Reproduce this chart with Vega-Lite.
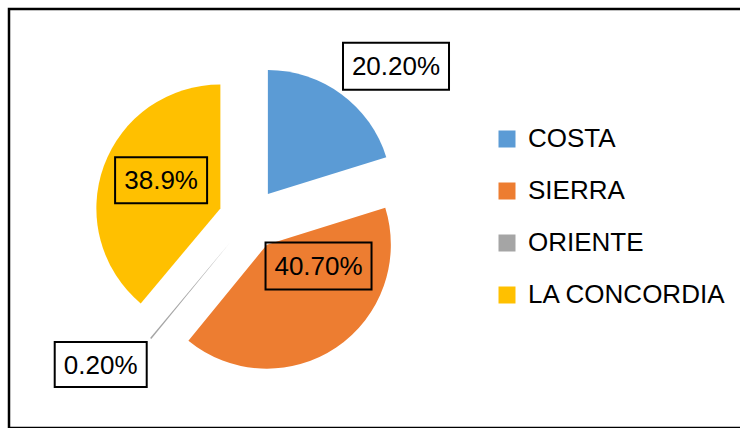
{
  "$schema": "https://vega.github.io/schema/vega-lite/v6.json",
  "width": 740,
  "height": 419,
  "padding": {"left": 9, "top": 9, "right": 0, "bottom": 0},
  "autosize": {"type": "none"},
  "background": "white",
  "config": {
    "view": {"stroke": "#000", "strokeWidth": 2.5},
    "font": "Liberation Sans"
  },
  "data": {
    "values": [
      {"region": "COSTA", "valor": 20.2, "etiqueta": "20.20%"},
      {"region": "SIERRA", "valor": 40.7, "etiqueta": "40.70%"},
      {"region": "ORIENTE", "valor": 0.2, "etiqueta": "0.20%"},
      {"region": "LA CONCORDIA", "valor": 38.9, "etiqueta": "38.9%"}
    ]
  },
  "transform": [
    {"window": [{"op": "row_number", "as": "idx"}]},
    {"window": [{"op": "sum", "field": "valor", "as": "acum"}], "sort": [{"field": "idx"}], "frame": [null, 0]},
    {"joinaggregate": [{"op": "sum", "field": "valor", "as": "total"}]},
    {"calculate": "datum.acum - datum.valor", "as": "inicio"},
    {"calculate": "2*PI*(datum.acum - datum.valor/2)/datum.total", "as": "medio"},
    {"calculate": "0.25*sin(datum.medio)", "as": "ex"},
    {"calculate": "0.25*cos(datum.medio)", "as": "ey"},
    {"calculate": "datum.valor/datum.total < 0.25 ? 1.43 : 0.5", "as": "rl"},
    {"calculate": "datum.ex + datum.rl*sin(datum.medio)", "as": "lx"},
    {"calculate": "datum.ey + datum.rl*cos(datum.medio)", "as": "ly"}
  ],
  "layer": [
    {
      "mark": {"type": "arc", "radius": 124, "stroke": null},
      "encoding": {
        "theta": {"field": "inicio", "type": "quantitative", "stack": null, "scale": {"domain": [0, 100], "range": [0, 6.283185307179586]}},
        "theta2": {"field": "acum"},
        "x": {"field": "ex", "type": "quantitative", "stack": null, "axis": null, "scale": {"domain": [-1, 1], "range": [116.5, 364.5], "nice": false, "zero": false}},
        "y": {"field": "ey", "type": "quantitative", "stack": null, "axis": null, "scale": {"domain": [-1, 1], "range": [334, 86], "nice": false, "zero": false}},
        "color": {
          "field": "region",
          "type": "nominal",
          "scale": {"domain": ["COSTA", "SIERRA", "ORIENTE", "LA CONCORDIA"], "range": ["#5B9BD5", "#ED7D31", "#A5A5A5", "#FFC000"]},
          "legend": {
            "title": null,
            "orient": "none",
            "legendX": 485,
            "legendY": 117,
            "symbolType": "square",
            "symbolSize": 289,
            "symbolStrokeWidth": 0,
            "labelFont": "Liberation Sans",
            "labelFontSize": 26,
            "labelColor": "#000",
            "labelOffset": 8,
            "rowPadding": 26,
            "labelLimit": 400
          }
        }
      }
    },
    {
      "transform": [{"filter": "datum.region == 'COSTA'"}],
      "encoding": {
        "x": {"field": "lx", "type": "quantitative", "stack": null, "axis": null, "scale": {"domain": [-1, 1], "range": [116.5, 364.5], "nice": false, "zero": false}},
        "y": {"field": "ly", "type": "quantitative", "stack": null, "axis": null, "scale": {"domain": [-1, 1], "range": [334, 86], "nice": false, "zero": false}}
      },
      "layer": [
        {"mark": {"type": "point", "shape": "M-1,-0.4434L1,-0.4434L1,0.4434L-1,0.4434Z", "size": 11236, "filled": false, "stroke": "#000", "strokeWidth": 2, "opacity": 1, "xOffset": 23, "yOffset": 15}},
        {"mark": {"type": "text", "fontSize": 26, "font": "Liberation Sans", "color": "#000", "align": "center", "baseline": "middle", "xOffset": 23, "yOffset": 16}, "encoding": {"text": {"field": "etiqueta"}}}
      ]
    },
    {
      "transform": [{"filter": "datum.region == 'SIERRA'"}],
      "encoding": {
        "x": {"field": "lx", "type": "quantitative", "stack": null, "axis": null, "scale": {"domain": [-1, 1], "range": [116.5, 364.5], "nice": false, "zero": false}},
        "y": {"field": "ly", "type": "quantitative", "stack": null, "axis": null, "scale": {"domain": [-1, 1], "range": [334, 86], "nice": false, "zero": false}}
      },
      "layer": [
        {"mark": {"type": "point", "shape": "M-1,-0.4434L1,-0.4434L1,0.4434L-1,0.4434Z", "size": 11236, "filled": false, "stroke": "#000", "strokeWidth": 2, "opacity": 1, "xOffset": 17, "yOffset": -30}},
        {"mark": {"type": "text", "fontSize": 26, "font": "Liberation Sans", "color": "#000", "align": "center", "baseline": "middle", "xOffset": 17, "yOffset": -29}, "encoding": {"text": {"field": "etiqueta"}}}
      ]
    },
    {
      "transform": [{"filter": "datum.region == 'ORIENTE'"}],
      "encoding": {
        "x": {"field": "lx", "type": "quantitative", "stack": null, "axis": null, "scale": {"domain": [-1, 1], "range": [116.5, 364.5], "nice": false, "zero": false}},
        "y": {"field": "ly", "type": "quantitative", "stack": null, "axis": null, "scale": {"domain": [-1, 1], "range": [334, 86], "nice": false, "zero": false}}
      },
      "layer": [
        {"mark": {"type": "point", "shape": "M-1,-0.49L1,-0.49L1,0.49L-1,0.49Z", "size": 8464, "filled": false, "stroke": "#000", "strokeWidth": 2, "opacity": 1, "xOffset": -16, "yOffset": -15}},
        {"mark": {"type": "text", "fontSize": 26, "font": "Liberation Sans", "color": "#000", "align": "center", "baseline": "middle", "xOffset": -16, "yOffset": -14}, "encoding": {"text": {"field": "etiqueta"}}}
      ]
    },
    {
      "transform": [{"filter": "datum.region == 'LA CONCORDIA'"}],
      "encoding": {
        "x": {"field": "lx", "type": "quantitative", "stack": null, "axis": null, "scale": {"domain": [-1, 1], "range": [116.5, 364.5], "nice": false, "zero": false}},
        "y": {"field": "ly", "type": "quantitative", "stack": null, "axis": null, "scale": {"domain": [-1, 1], "range": [334, 86], "nice": false, "zero": false}}
      },
      "layer": [
        {"mark": {"type": "point", "shape": "M-1,-0.5L1,-0.5L1,0.5L-1,0.5Z", "size": 8464, "filled": false, "stroke": "#000", "strokeWidth": 2, "opacity": 1, "xOffset": -1, "yOffset": -7}},
        {"mark": {"type": "text", "fontSize": 26, "font": "Liberation Sans", "color": "#000", "align": "center", "baseline": "middle", "xOffset": -1, "yOffset": -6}, "encoding": {"text": {"field": "etiqueta"}}}
      ]
    }
  ]
}
